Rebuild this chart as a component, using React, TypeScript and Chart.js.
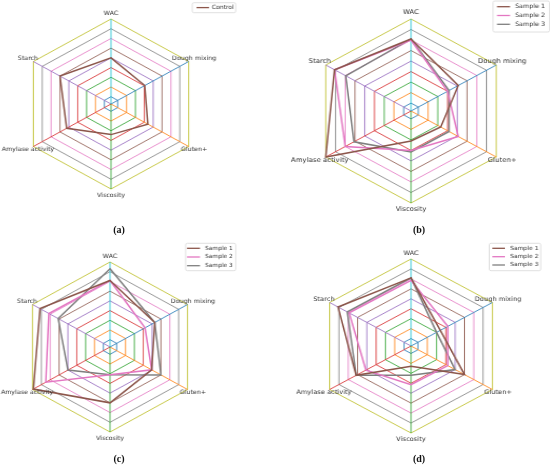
import React, { useEffect, useRef } from "react";
import { Chart, registerables } from "chart.js";

Chart.register(...registerables);

// ---------- data ----------
const AXES = ["WAC", "Dough mixing", "Gluten+", "Viscosity", "Amylase activity", "Starch"];
const RING_TICKS = [1, 2, 3, 4, 5, 6, 7, 8, 9];
const SCALE_MIN = 0.25;
const SCALE_MAX = 9;

const CONTROL_A = [5.0, 4.05, 4.4, 3.4, 5.25, 6.0];

const SAMPLE1_B = [7.1, 5.1, 3.3, 3.1, 9.0, 8.1];
const SAMPLE2_B = [7.0, 4.0, 5.1, 4.0, 7.0, 8.1];
const SAMPLE3_B = [7.1, 4.15, 4.15, 4.15, 6.1, 6.95];

const SAMPLE1_C = [7.1, 5.3, 4.95, 6.0, 8.9, 8.15];
const SAMPLE2_C = [7.1, 4.2, 4.95, 3.1, 7.5, 7.15];
const SAMPLE3_C = [8.3, 5.3, 6.0, 3.1, 5.0, 6.1];

const SAMPLE1_D = [7.1, 3.4, 6.0, 2.3, 6.15, 8.1];
const SAMPLE2_D = [6.85, 4.2, 4.2, 4.15, 5.1, 6.9];
const SAMPLE3_D = [7.1, 3.0, 5.0, 3.2, 6.15, 7.1];

// ---------- styles ----------
const BROWN = "#8c564b";
const PINK = "#e377c2";
const GRAY = "#7f7f7f";
const RING_COLORS = ["#1f77b4", "#ff7f0e", "#2ca02c", "#d62728", "#9467bd", "#8c564b", "#e377c2", "#7f7f7f", "#bcbd22"];
const SPOKE_COLORS = ["#17becf", "#1f77b4", "#ff7f0e", "#2ca02c", "#d62728", "#9467bd"];

type Series = { label: string; data: number[]; color: string };
type Spec = {
  id: string;
  cx: number; cy: number; R: number; sx: number;
  L: number; T: number; W: number; H: number;
  font: number;
  series: Series[];
  legend: { x0: number; y0: number; x1: number; y1: number; lineX0: number; lineX1: number; textX: number; rows: number[]; font: number };
  caption: string; capX: number; capY: number;
};

const SPECS: Spec[] = [
  {
    id: "a", cx: 111, cy: 104, R: 85, sx: 1.055, L: 0, T: 0, W: 275, H: 234, font: 6.0,
    series: [{ label: "Control", data: CONTROL_A, color: BROWN }],
    legend: { x0: 192.3, y0: 2.7, x1: 235.7, y1: 12.7, lineX0: 196.5, lineX1: 209, textX: 211.7, rows: [7.6], font: 5.8 },
    caption: "(a)", capX: 119, capY: 230,
  },
  {
    id: "b", cx: 411, cy: 111, R: 92, sx: 1.07, L: 275, T: 0, W: 275, H: 234, font: 6.5,
    series: [
      { label: "Sample 1", data: SAMPLE1_B, color: BROWN },
      { label: "Sample 2", data: SAMPLE2_B, color: PINK },
      { label: "Sample 3", data: SAMPLE3_B, color: GRAY },
    ],
    legend: { x0: 493, y0: 1, x1: 549.5, y1: 32, lineX0: 497, lineX1: 510, textX: 515, rows: [6.7, 15.5, 24.3], font: 6.0 },
    caption: "(b)", capX: 419, capY: 229.5,
  },
  {
    id: "c", cx: 110, cy: 347, R: 85, sx: 1.053, L: 0, T: 234, W: 275, H: 234, font: 6.0,
    series: [
      { label: "Sample 1", data: SAMPLE1_C, color: BROWN },
      { label: "Sample 2", data: SAMPLE2_C, color: PINK },
      { label: "Sample 3", data: SAMPLE3_C, color: GRAY },
    ],
    legend: { x0: 185.7, y0: 243.3, x1: 235.7, y1: 270.7, lineX0: 187, lineX1: 200, textX: 205, rows: [248.3, 257, 265.7], font: 5.6 },
    caption: "(c)", capX: 119, capY: 459,
  },
  {
    id: "d", cx: 411, cy: 346, R: 87, sx: 1.08, L: 275, T: 234, W: 275, H: 234, font: 6.2,
    series: [
      { label: "Sample 1", data: SAMPLE1_D, color: BROWN },
      { label: "Sample 2", data: SAMPLE2_D, color: PINK },
      { label: "Sample 3", data: SAMPLE3_D, color: GRAY },
    ],
    legend: { x0: 489.3, y0: 243.3, x1: 540.7, y1: 270.7, lineX0: 492.3, lineX1: 505, textX: 510, rows: [248.3, 256.7, 265], font: 5.6 },
    caption: "(d)", capX: 419, capY: 459,
  },
];

function withAlpha(hex: string, a: number) {
  const r = parseInt(hex.slice(1, 3), 16);
  const g = parseInt(hex.slice(3, 5), 16);
  const b = parseInt(hex.slice(5, 7), 16);
  return `rgba(${r},${g},${b},${a})`;
}

function overlayPlugin(spec: Spec) {
  const cxC = spec.cx - spec.L;
  const toX = (x: number) => cxC + (x - spec.cx) / spec.sx;
  const toY = (y: number) => y - spec.T;
  return {
    id: "overlay_" + spec.id,
    afterDraw(chart: any) {
      const ctx = chart.ctx as CanvasRenderingContext2D;
      const r = chart.scales.r;
      ctx.save();
      // axis labels
      ctx.font = `${spec.font}px "DejaVu Sans", sans-serif`;
      ctx.fillStyle = "#333333";
      ctx.textAlign = "center";
      ctx.textBaseline = "middle";
      AXES.forEach((lab, i) => {
        const p = r.getPointPosition(i, r.drawingArea * 1.07);
        ctx.fillText(lab, p.x, p.y);
      });
      // legend
      const lg = spec.legend;
      const x0 = toX(lg.x0), x1 = toX(lg.x1), y0 = toY(lg.y0), y1 = toY(lg.y1);
      ctx.beginPath();
      const rad = 1.5;
      ctx.moveTo(x0 + rad, y0);
      ctx.lineTo(x1 - rad, y0);
      ctx.quadraticCurveTo(x1, y0, x1, y0 + rad);
      ctx.lineTo(x1, y1 - rad);
      ctx.quadraticCurveTo(x1, y1, x1 - rad, y1);
      ctx.lineTo(x0 + rad, y1);
      ctx.quadraticCurveTo(x0, y1, x0, y1 - rad);
      ctx.lineTo(x0, y0 + rad);
      ctx.quadraticCurveTo(x0, y0, x0 + rad, y0);
      ctx.closePath();
      ctx.fillStyle = "rgba(255,255,255,0.85)";
      ctx.fill();
      ctx.strokeStyle = "#d8d8d8";
      ctx.lineWidth = 0.8;
      ctx.stroke();
      ctx.font = `${lg.font}px "DejaVu Sans", sans-serif`;
      ctx.textAlign = "left";
      spec.series.forEach((s, i) => {
        const y = toY(lg.rows[i]);
        ctx.beginPath();
        ctx.moveTo(toX(lg.lineX0), y);
        ctx.lineTo(toX(lg.lineX1), y);
        ctx.strokeStyle = s.color;
        ctx.lineWidth = 1.3;
        ctx.stroke();
        ctx.fillStyle = "#333333";
        ctx.fillText(s.label, toX(lg.textX), y);
      });
      ctx.restore();
    },
  };
}

function RadarPanel({ spec }: { spec: Spec }) {
  const ref = useRef<HTMLCanvasElement | null>(null);
  useEffect(() => {
    if (!ref.current) return;
    const cxC = spec.cx - spec.L;
    const cyC = spec.cy - spec.T;
    const chart = new Chart(ref.current, {
      type: "radar",
      data: {
        labels: AXES,
        datasets: spec.series.map((s) => ({
          label: s.label,
          data: s.data,
          borderColor: s.color,
          backgroundColor: "transparent",
          borderWidth: 1.5,
          fill: false,
          pointRadius: 0,
          pointHoverRadius: 0,
          tension: 0,
        })),
      },
      options: {
        animation: false,
        responsive: false,
        maintainAspectRatio: false,
        events: [],
        layout: {
          padding: {
            left: cxC - spec.R,
            top: cyC - spec.R,
            right: spec.W - cxC - spec.R,
            bottom: spec.H - cyC - spec.R,
          },
        },
        plugins: { legend: { display: false }, tooltip: { enabled: false } },
        scales: {
          r: {
            min: SCALE_MIN,
            max: SCALE_MAX,
            beginAtZero: false,
            afterBuildTicks: (scale: any) => {
              scale.ticks = [SCALE_MIN, ...RING_TICKS].map((v) => ({ value: v }));
            },
            ticks: { display: false },
            pointLabels: { display: false },
            grid: {
              circular: false,
              lineWidth: 1,
              color: (ctx: any) => withAlpha(RING_COLORS[Math.max(0, ctx.index - 1)], 0.8),
            },
            angleLines: {
              display: true,
              lineWidth: 1,
              color: (ctx: any) => withAlpha(SPOKE_COLORS[ctx.index % 6], 0.8),
            },
          },
        },
      } as any,
      plugins: [overlayPlugin(spec)],
    });
    return () => chart.destroy();
  }, [spec]);
  return (
    <canvas
      ref={ref}
      width={spec.W}
      height={spec.H}
      style={{
        position: "absolute",
        left: spec.L,
        top: spec.T,
        width: spec.W,
        height: spec.H,
        transform: `scaleX(${spec.sx})`,
        transformOrigin: `${spec.cx - spec.L}px 50%`,
      }}
    />
  );
}

export default function App() {
  return (
    <div style={{ position: "absolute", left: 0, top: 0, width: 550, height: 468, background: "#ffffff", overflow: "hidden" }}>
      {SPECS.map((s) => (
        <RadarPanel key={s.id} spec={s} />
      ))}
      {SPECS.map((s) => (
        <div
          key={"cap" + s.id}
          style={{
            position: "absolute",
            left: s.capX - 20,
            top: s.capY - 7,
            width: 40,
            height: 14,
            lineHeight: "14px",
            textAlign: "center",
            fontFamily: '"Liberation Serif", serif',
            fontWeight: "bold",
            fontSize: 10,
            color: "#111",
          }}
        >
          {s.caption}
        </div>
      ))}
    </div>
  );
}
